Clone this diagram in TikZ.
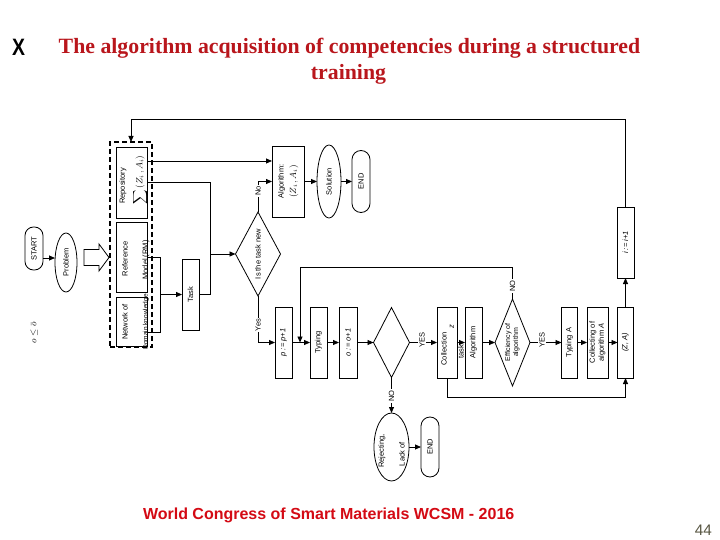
\documentclass[tikz,border=0pt]{standalone}
\usepackage{graphicx}
\usepackage{fontspec}
\setmainfont{Liberation Sans}
\newfontfamily\titlefont{Liberation Serif}
\usetikzlibrary{shapes.geometric,arrows.meta}
\definecolor{titlered}{RGB}{185,22,28}
\definecolor{footred}{RGB}{212,10,20}
\definecolor{pgnum}{RGB}{88,86,66}
\newcommand{\rt}[1]{\rotatebox{90}{\begin{tabular}{@{}c@{}}#1\end{tabular}}}
\newcommand{\rtl}[1]{\rotatebox{90}{#1}}
\begin{document}
\begin{tikzpicture}[x=1pt,y=-1pt,
  every node/.style={inner sep=0pt, outer sep=0pt, font=\fontsize{7.5}{9}\selectfont},
  ln/.style={line width=0.8pt},
  arr/.style={line width=0.8pt, -{Triangle[length=6pt,width=5pt]}},
  blk/.style={draw, line width=0.8pt, rectangle, minimum height=71pt},
  term/.style={draw, line width=0.8pt, rectangle, rounded corners=8.5pt},
  ell/.style={draw, line width=0.8pt, ellipse},
  dia/.style={draw, line width=0.8pt, diamond},
  lbl/.style={fill=white, inner sep=1pt}]
\useasboundingbox (0,0) rectangle (720,540);
\fill[white] (0,0) rectangle (720,540);

% title and footer
\node[anchor=base] (xmark) at (18.5,56) {\scalebox{0.82}[1]{\fontsize{23.7}{26}\selectfont\bfseries X}};
\node[anchor=base, text=titlered, font=\titlefont\bfseries\fontsize{21.8}{26}\selectfont] (title1) at (349.5,53.5) {The algorithm acquisition of competencies during a structured};
\node[anchor=base, text=titlered, font=\titlefont\bfseries\fontsize{21.8}{26}\selectfont] (title2) at (348.5,80) {training};
\node[anchor=base west, text=footred, font=\bfseries\fontsize{16}{19}\selectfont] (foot) at (143,519.5) {World Congress of Smart Materials WCSM - 2016};
\node[anchor=base east, text=pgnum, font=\fontsize{15.3}{18}\selectfont] (pg) at (712,535) {44};

% helper coordinates
\coordinate (y258) at (0,258);
\coordinate (y161) at (0,161);

% start / problem
\node[term, minimum width=18pt, minimum height=43pt] (start) at (34,248.5) {\rtl{START}};
\node[ell, minimum width=22pt, minimum height=59pt] (problem) at (66,262.5) {\rtl{Problem}};
\draw[arr] (start.east |- y258) -- (problem.west |- y258);
\draw[ln, fill=white] (84,249.5) -- (99,249.5) -- (99,244) -- (109,257.5) -- (99,271) -- (99,265.5) -- (84,265.5) -- cycle;
\node (ocond) at (34,333) {\rotatebox{90}{\fontsize{9}{10}\selectfont$o\le\bar{o}$}};

% knowledge block
\node[draw, line width=1.1pt, dash pattern=on 5pt off 3pt, minimum width=42pt, minimum height=205pt] (kb) at (131,244.5) {};
\node[blk, minimum width=31pt] (repo) at (131.5,182.5) {};
\node (repot) at (123,186) {\rtl{Repository}};
\node (repom) at (140,180) {\rtl{\fontsize{9}{10}\selectfont$\displaystyle\sum\,(Z_i\,,A_i)$}};
\node[blk, minimum width=31pt, minimum height=70pt] (ref) at (131.5,257) {};
\node (reft) at (125,259) {\rtl{Reference}};
\node (refm) at (146,260) {\rtl{Model (RM)}};
\node[blk, minimum width=31pt, minimum height=49pt] (net) at (131.5,321.5) {};
\node (nett) at (125,322) {\rtl{Network of}};
\node[font=\fontsize{6.5}{8}\selectfont] (netd) at (146,322) {\rtl{Domain knowledge}};

% bracket and task
\coordinate (bt) at (160,257);
\coordinate (bb) at (160,332);
\coordinate (bm) at (160,294.5);
\node[blk, minimum width=17pt] (task) at (190.5,294.5) {\rtl{Task}};
\draw[ln] (ref.east) -- (bt) -- (bb) -- (bb -| net.east);
\draw[arr] (bm) -- (task.west);

% decision: is the task new
\node[dia, minimum width=45pt, minimum height=84pt, aspect=0.54] (d1) at (258,254) {\rtl{Is the task new}};
\coordinate (j1) at (210,182.5);
\coordinate (j2) at (210,294.5);
\coordinate (j3) at (210,254);
\draw[ln] (repo.east) -- (j1) -- (j2) -- (task.east);
\draw[arr] (j3) -- (d1.west);

% known task branch
\node[blk, minimum width=32pt] (algo) at (288,181.5) {\rt{Algorithm:\\[3pt]\fontsize{9}{10}\selectfont$(Z_i\,,A_i)$}};
\node[ell, minimum width=24pt, minimum height=73pt] (sol) at (329,181.5) {\rtl{Solution}};
\node[term, minimum width=18pt, minimum height=62pt, rounded corners=9pt] (end1) at (361,181.5) {\rtl{END}};
\draw[arr] (repo.east |- y161) -- (algo.west |- y161);
\coordinate (nocorner) at (258,181.5);
\draw[arr] (d1.north) -- (nocorner) -- (algo.west);
\node[lbl] (nolbl) at (258,191) {\rtl{No}};
\draw[arr] (algo.east) -- (sol.west);
\draw[arr] (sol.east) -- (end1.west);

% new task branch
\node[blk, minimum width=17pt] (p) at (283.5,342.5) {\rtl{\textit{p := p+1}}};
\node[blk, minimum width=17pt] (typ) at (318.5,342.5) {\rtl{Typing}};
\node[blk, minimum width=18pt] (o) at (348,342.5) {\rtl{\textit{o := o+1}}};
\node[dia, minimum width=36pt, minimum height=70pt] (d2) at (391.5,342.5) {};
\node[blk, minimum width=20pt] (coll) at (447,342.5) {};
\node (collt) at (444,349) {\rtl{Collection}};
\node (collz) at (452,327) {\rtl{\textit{z}}};
\node[blk, minimum width=17pt] (alg2) at (473.5,342.5) {\rtl{Algorithm}};
\node (taskt) at (461,352) {\rtl{task}};
\node[dia, minimum width=35pt, minimum height=87pt, aspect=0.4, font=\fontsize{7}{8}\selectfont] (eff) at (512.5,342.5) {\rt{Efficiency of\\algorithm}};
\node[blk, minimum width=16pt] (typA) at (569.5,342.5) {\rtl{Typing A}};
\node[blk, minimum width=21pt] (colA) at (597.5,342.5) {\rt{Collecting of\\algorithm \textit{A}}};
\node[blk, minimum width=16pt] (za) at (625.5,342.5) {\rtl{\textit{(Z, A)}}};
\node[blk, minimum width=17pt] (inc) at (625.5,242.5) {\rtl{\textit{i := i+1}}};

\coordinate (yescorner) at (258,342.5);
\draw[arr] (d1.south) -- (yescorner) -- (p.west);
\node[lbl] (yeslbl) at (258,325) {\rtl{Yes}};
\draw[arr] (p.east) -- (typ.west);
\draw[arr] (typ.east) -- (o.west);
\draw[arr] (o.east) -- (d2.west);
\draw[arr] (d2.east) -- (coll.west);
\node[lbl] (yes2) at (422,340) {\rtl{YES}};
\draw[arr] (coll.east) -- (alg2.west);
\draw[arr] (alg2.east) -- (eff.west);
\draw[arr] (eff.east) -- (typA.west);
\node[lbl] (yes3) at (542,340) {\rtl{YES}};
\draw[arr] (typA.east) -- (colA.west);
\draw[arr] (colA.east) -- (za.west);

% efficiency NO loop
\coordinate (n1) at (512.5,267);
\coordinate (n2) at (300,267);
\coordinate (n3) at (300,342.5);
\draw[arr] (eff.north) -- (n1) -- (n2) -- (n3);
\node[lbl] (no3) at (512.5,286) {\rtl{NO}};

% rejection
\node[ell, minimum width=35pt, minimum height=68pt] (rej) at (391.5,447) {};
\node (rejt) at (382,451) {\rtl{Rejecting,}};
\node (rejl) at (402,454) {\rtl{Lack of}};
\node[term, minimum width=18pt, minimum height=60pt, rounded corners=9pt] (end2) at (430,447) {\rtl{END}};
\draw[arr] (d2.south) -- (rej.north);
\node[lbl] (no2) at (391.5,396) {\rtl{NO}};
\draw[arr] (rej.east) -- (end2.west);

% collection loop and top loop
\coordinate (c1) at (447,397);
\coordinate (c2) at (625.5,397);
\draw[arr] (coll.south) -- (c1) -- (c2) -- (za.south);
\draw[arr] (za.north) -- (inc.south);
\coordinate (t1) at (625.5,119);
\coordinate (t2) at (131,119);
\draw[arr] (inc.north) -- (t1) -- (t2) -- (kb.north);
\end{tikzpicture}
\end{document}
